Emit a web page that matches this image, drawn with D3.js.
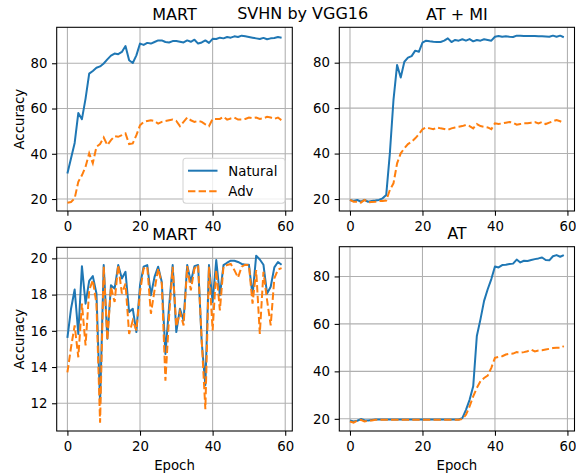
<!DOCTYPE html>
<html>
<head>
<meta charset="utf-8">
<script src="https://cdn.jsdelivr.net/npm/d3@7"></script>
<style>
  body { margin: 0; background: #fff; }
  svg text { font-family: "DejaVu Sans", sans-serif; fill: #000; }
</style>
</head>
<body>
<svg id="fig" width="576" height="473"></svg>
<script>
// data, one value per epoch (0..59)
var epochs = d3.range(60);

var martNat = [31.3, 38, 44.8, 58, 55.3, 64.4, 75.4, 76.6, 78, 78.6,
  79.9, 81.7, 83.4, 84.3, 84, 85, 87.6, 81.3, 80.1, 83.5,
  88.7, 88.1, 89, 88.7, 89.4, 90.1, 90.1, 89.4, 89.2, 89.8,
  89.8, 89.5, 89.2, 90.1, 89.5, 90.4, 88.7, 89.2, 90.1, 89,
  90.8, 90.7, 91.3, 91, 91.6, 91.3, 91.9, 91.6, 92.2, 91.9,
  91.6, 91.3, 91, 90.7, 91.2, 90.6, 91, 91.2, 91.6, 91.3];
var martAdv = [18.4, 18.7, 20.3, 27.6, 30.5, 34.3, 40.2, 35.8, 43.1, 44.3,
  47.2, 43.8, 46, 47.8, 47.5, 48.2, 49, 44.3, 44.6, 48.2,
  52.6, 54.1, 54.5, 54.8, 54.5, 53.3, 54.1, 54.5, 54.8, 55.1,
  54.5, 52.2, 54.1, 56, 54.8, 54.1, 54.5, 54.1, 53, 52.2,
  55.4, 55.4, 55.4, 56.3, 55.1, 55.6, 56, 55.1, 55.1, 55.4,
  56, 55.7, 56, 55.4, 55.7, 56.3, 56, 55.4, 56, 54.8];

var atmiNat = [19.6, 19.1, 19.6, 18.8, 19.6, 18.8, 19.1, 19.3, 19.6, 20.3,
  21.8, 40.1, 63.6, 79, 73.5, 80.4, 82.2, 82.9, 85.3, 84.8,
  88.8, 89.7, 89.4, 89.2, 89.1, 89.1, 89.7, 90.7, 89.1, 90,
  89.7, 90.3, 89.7, 90.4, 89.4, 90, 89.7, 90.3, 90, 89.7,
  91.4, 91.7, 91.4, 91.6, 91.4, 91.3, 91.9, 91.9, 91.8, 91.8,
  91.7, 91.7, 91.6, 91.6, 91.5, 91.4, 91.9, 91.4, 91.9, 91.2];
var atmiAdv = [19.6, 18.8, 18.8, 18.4, 19.6, 18.5, 18.7, 18.8, 19.1, 19.1,
  19.3, 24, 26.9, 35.7, 40.1, 42.3, 44.2, 45.2, 46.7, 48.5,
  50.7, 51.5, 51.1, 50.7, 51.5, 51.1, 50.8, 50.4, 51.1, 51.5,
  51.8, 52.1, 52.6, 52.1, 51.1, 53, 52.1, 51.8, 51.5, 50.7,
  53.3, 53, 53.3, 53.6, 53.9, 53.6, 52.7, 53, 53.3, 53.3,
  53.6, 53.9, 53.3, 53.9, 53, 53.6, 54.2, 54.8, 54.2, 53.6];

var mart2Nat = [15.61, 17.22, 18.28, 15.83, 19.57, 17.5, 18.76, 19.02, 18.06, 12.0,
  19.63, 15.56, 18.52, 18.33, 19.63, 18.89, 19.26, 17.04, 17.22, 15.93,
  18.52, 19.54, 19.63, 17.96, 18.98, 19.54, 18.7, 14.72, 17.31, 19.63,
  15.93, 17.22, 16.57, 19.63, 18.7, 19.57, 19.63, 15.37, 13.0, 19.63,
  17.59, 19.91, 17.96, 19.63, 19.76, 19.87, 19.87, 19.8, 19.69, 19.65,
  19.65, 17.96, 20.15, 19.94, 19.65, 18.06, 18.43, 19.5, 19.8, 19.65];
var mart2Adv = [13.7, 15.09, 16.3, 14.54, 17.5, 15.19, 18.24, 18.8, 17.5, 10.93,
  19.54, 15.5, 18.43, 17.59, 19.63, 18.06, 18.61, 15.83, 16.57, 16.02,
  18.15, 19.44, 19.54, 16.94, 18.24, 19.44, 18.61, 13.24, 16.76, 19.54,
  16.24, 17.04, 16.3, 19.57, 18.24, 19.44, 19.63, 15.46, 11.67, 19.54,
  16.02, 19.35, 17.13, 19.57, 19.63, 19.69, 19.35, 18.94, 19.54, 19.65,
  19.63, 17.5, 19.35, 15.83, 19.26, 17.69, 16.3, 18.89, 19.39, 19.46];

var atNat = [19.3, 18.9, 19.2, 19.9, 19.4, 19.3, 19.5, 19.7, 19.7, 19.7,
  19.7, 19.7, 19.7, 19.7, 19.7, 19.7, 19.7, 19.7, 19.7, 19.7,
  19.7, 19.7, 19.7, 19.7, 19.7, 19.7, 19.7, 19.7, 19.7, 19.7,
  19.7, 20.3, 23.8, 28, 33.7, 54.9, 61.9, 69.7, 74.6, 78.9,
  84.2, 83.8, 84.8, 84.9, 85.2, 85.4, 87.1, 85.9, 86.6, 86.5,
  86.9, 87.3, 87.6, 88, 86.9, 86.8, 88.5, 89, 88.3, 89];
var atAdv = [18.9, 18.4, 19.2, 19.6, 18.9, 19.2, 19.3, 19.6, 19.6, 19.6,
  19.6, 19.6, 19.6, 19.6, 19.6, 19.6, 19.6, 19.6, 19.6, 19.6,
  19.6, 19.6, 19.6, 19.6, 19.6, 19.6, 19.6, 19.6, 19.6, 19.6,
  19.6, 19.9, 21.7, 25.2, 29.5, 33, 35.8, 37.2, 38.2, 41.5,
  45.7, 46.1, 46.4, 47.1, 47.4, 47.5, 48.1, 47.8, 48.1, 48.5,
  49.2, 48.4, 48.8, 48.9, 49.2, 49.5, 49.8, 49.9, 49.9, 50.6];

var xTicks = [0, 20, 40, 60];
var accTicks = [20, 40, 60, 80];
var mart2Ticks = [12, 14, 16, 18, 20];
var seriesNames = ["Natural", "Adv"];

var blue = "#1f77b4", orange = "#ff7f0e";
var dash = "7.4,3.2";

var panels = [
  { title: "MART", nat: martNat, adv: martAdv, yTicks: accTicks,
    left: 56.7, right: 292.3, top: 27.3, bottom: 211, ylab: true, xlab: false, legend: true },
  { title: "AT + MI", nat: atmiNat, adv: atmiAdv, yTicks: accTicks,
    left: 339.3, right: 574.5, top: 27.3, bottom: 211, ylab: false, xlab: false },
  { title: "MART", nat: mart2Nat, adv: mart2Adv, yTicks: mart2Ticks,
    left: 56.7, right: 292.3, top: 247.3, bottom: 431, ylab: true, xlab: true },
  { title: "AT", nat: atNat, adv: atAdv, yTicks: accTicks,
    left: 339.3, right: 574.5, top: 246.7, bottom: 431, ylab: false, xlab: true }
];

var svg = d3.select("#fig");
svg.append("rect").attr("width", 576).attr("height", 473).attr("fill", "#fff");

// matplotlib-ish 5% margins
function padded(ext) {
  var d = (ext[1] - ext[0]) * 0.05;
  return [ext[0] - d, ext[1] + d];
}

panels.forEach(function(p, i) {
  var x = d3.scaleLinear().domain(padded(d3.extent(epochs))).range([p.left, p.right]);
  var y = d3.scaleLinear().domain(padded(d3.extent(p.nat.concat(p.adv)))).range([p.bottom, p.top]);
  var g = svg.append("g");

  // grid first so the lines sit on top
  g.selectAll(".gx").data(xTicks).join("line")
    .attr("x1", d => x(d)).attr("x2", d => x(d))
    .attr("y1", p.top).attr("y2", p.bottom)
    .attr("stroke", "#b0b0b0").attr("stroke-width", 1.07);
  g.selectAll(".gy").data(p.yTicks).join("line")
    .attr("x1", p.left).attr("x2", p.right)
    .attr("y1", d => y(d)).attr("y2", d => y(d))
    .attr("stroke", "#b0b0b0").attr("stroke-width", 1.07);

  svg.append("clipPath").attr("id", "clip" + i)
    .append("rect")
    .attr("x", p.left).attr("y", p.top)
    .attr("width", p.right - p.left).attr("height", p.bottom - p.top);

  var line = d3.line().x((d, k) => x(epochs[k])).y(d => y(d));
  g.append("path").datum(p.nat)
    .attr("clip-path", "url(#clip" + i + ")")
    .attr("d", line).attr("fill", "none")
    .attr("stroke", blue).attr("stroke-width", 2)
    .attr("stroke-linejoin", "round");
  g.append("path").datum(p.adv)
    .attr("clip-path", "url(#clip" + i + ")")
    .attr("d", line).attr("fill", "none")
    .attr("stroke", orange).attr("stroke-width", 2)
    .attr("stroke-dasharray", dash);

  // spines
  g.append("rect")
    .attr("x", p.left).attr("y", p.top)
    .attr("width", p.right - p.left).attr("height", p.bottom - p.top)
    .attr("fill", "none").attr("stroke", "#000").attr("stroke-width", 1.07);

  var xa = g.append("g").attr("transform", "translate(0," + p.bottom + ")")
    .call(d3.axisBottom(x).tickValues(xTicks).tickFormat(d3.format("d")).tickSize(4.67).tickPadding(5.5));
  var ya = g.append("g").attr("transform", "translate(" + p.left + ",0)")
    .call(d3.axisLeft(y).tickValues(p.yTicks).tickFormat(d3.format("d")).tickSize(4.67).tickPadding(4.67));
  [xa, ya].forEach(function(a) {
    a.select(".domain").remove();
    a.selectAll("line").attr("stroke", "#000").attr("stroke-width", 1.07);
    a.selectAll("text").attr("font-family", "DejaVu Sans").attr("font-size", "13.3px").attr("fill", "#000");
  });

  g.append("text")
    .attr("x", (p.left + p.right) / 2).attr("y", p.top - 7.5)
    .attr("text-anchor", "middle").attr("font-size", "16px")
    .text(p.title);

  if (p.ylab) {
    g.append("text")
      .attr("transform", "translate(24," + (p.top + p.bottom) / 2 + ") rotate(-90)")
      .attr("text-anchor", "middle").attr("font-size", "13.3px")
      .text("Accuracy");
  }
  if (p.xlab) {
    g.append("text")
      .attr("x", (p.left + p.right) / 2).attr("y", 470)
      .attr("text-anchor", "middle").attr("font-size", "13.3px")
      .text("Epoch");
  }

  if (p.legend) {
    var lg = g.append("g");
    lg.append("rect")
      .attr("x", 183).attr("y", 158.3).attr("width", 102).attr("height", 45)
      .attr("rx", 3).attr("fill", "#fff").attr("fill-opacity", 0.8)
      .attr("stroke", "#d5d5d5").attr("stroke-width", 1.07);
    seriesNames.forEach(function(name, k) {
      var yy = 170.7 + k * 20.6;
      lg.append("line")
        .attr("x1", 188).attr("x2", 217.5).attr("y1", yy).attr("y2", yy)
        .attr("stroke", k == 0 ? blue : orange).attr("stroke-width", 2)
        .attr("stroke-dasharray", k == 0 ? null : dash);
      lg.append("text")
        .attr("x", 228.3).attr("y", yy + 5)
        .attr("font-size", "13.3px")
        .text(name);
    });
  }
});

// suptitle
svg.append("text")
  .attr("x", 302.7).attr("y", 18.5)
  .attr("text-anchor", "middle").attr("font-size", "16px")
  .text("SVHN by VGG16");
</script>
</body>
</html>
